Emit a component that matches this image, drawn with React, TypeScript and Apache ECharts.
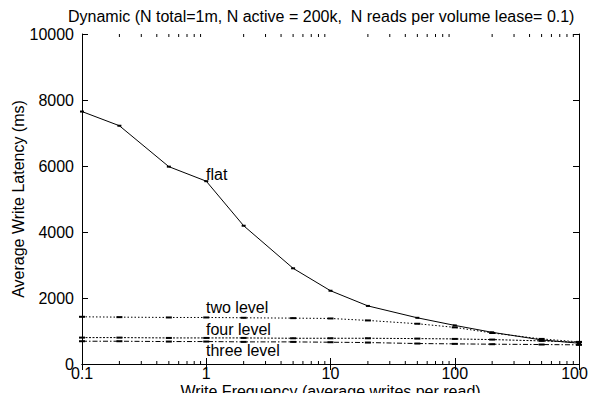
import React, { useEffect, useRef } from "react";
import * as echarts from "echarts";

// Write frequency (average writes per read), log scale
const freq = [0.1, 0.2, 0.5, 1, 2, 5, 10, 20, 50, 100, 200, 500, 1000];

// Average write latency (ms) per scheme
const flat = [7650, 7220, 5980, 5540, 4190, 2900, 2220, 1760, 1400, 1170, 960, 730, 630];
const twoLevel = [1430, 1420, 1410, 1410, 1400, 1390, 1380, 1320, 1220, 1110, 940, 760, 670];
const fourLevel = [800, 800, 790, 790, 790, 780, 780, 780, 770, 760, 740, 700, 660];
const threeLevel = [690, 690, 680, 680, 670, 670, 660, 650, 620, 610, 600, 590, 580];

// Minor tick positions on the log x axis
const minorTicks = [
  0.2, 0.3, 0.4, 0.5, 0.6, 0.7, 0.8, 0.9,
  2, 3, 4, 5, 6, 7, 8, 9,
  20, 30, 40, 50, 60, 70, 80, 90,
  200, 300, 400, 500, 600, 700, 800, 900,
];

const yTicks = { min: 0, max: 10000, interval: 2000 };

const FONT = "'Liberation Sans', Arial, Helvetica, sans-serif";
const FS = 16;

const pair = (ys: number[]) => freq.map((x, i) => [x, ys[i]]);

export default function App() {
  const ref = useRef<HTMLDivElement>(null);

  useEffect(() => {
    if (!ref.current) return;
    const chart = echarts.init(ref.current, null, { renderer: "svg" });

    const lineSeries = (name: string, ys: number[], type: any, marker: number[]) => ({
      name,
      type: "line",
      data: pair(ys),
      symbol: "rect",
      symbolSize: marker,
      itemStyle: { color: "#000" },
      lineStyle: { color: "#000", width: 1, type },
      silent: true,
      z: 3,
    });

    const axisCommon = {
      axisLine: { show: true, lineStyle: { color: "#000", width: 1 } },
      splitLine: { show: false },
    };

    const labelText = (text: string, top: number) => ({
      type: "text",
      left: 206,
      top,
      style: { text, font: `${FS}px ${FONT}`, fill: "#000" },
    });

    chart.setOption({
      animation: false,
      backgroundColor: "#fff",
      textStyle: { fontFamily: FONT },
      grid: {
        left: 82,
        right: 17,
        top: 34,
        bottom: 37,
        containLabel: false,
        outerBoundsMode: "none",
      },
      title: {
        text: "Dynamic (N total=1m, N active = 200k,  N reads per volume lease= 0.1)",
        left: 63,
        top: 3,
        textStyle: { fontFamily: FONT, fontSize: FS, fontWeight: "normal", color: "#000" },
      },
      xAxis: [
        {
          type: "log",
          logBase: 10,
          min: 0.1,
          max: 1000,
          position: "bottom",
          ...axisCommon,
          axisTick: { show: true, inside: true, length: 6, lineStyle: { color: "#000" } },
          axisLabel: {
            color: "#000",
            fontSize: FS,
            fontFamily: FONT,
            margin: 1,
            hideOverlap: false,
            showMinLabel: true,
            showMaxLabel: true,
            formatter: (v: number) => String(v),
          },
          name: "Write Frequency (average writes per read)",
          nameLocation: "middle",
          nameGap: 19,
          nameMoveOverlap: false,
          nameTextStyle: { color: "#000", fontSize: FS, fontFamily: FONT },
        },
        {
          type: "log",
          logBase: 10,
          min: 0.1,
          max: 1000,
          position: "top",
          ...axisCommon,
          axisTick: { show: true, inside: true, length: 6, lineStyle: { color: "#000" } },
          axisLabel: { show: false },
        },
      ],
      yAxis: [
        {
          type: "value",
          ...yTicks,
          position: "left",
          ...axisCommon,
          axisTick: { show: true, inside: true, length: 6, lineStyle: { color: "#000" } },
          axisLabel: {
            color: "#000",
            fontSize: FS,
            fontFamily: FONT,
            margin: 8,
            hideOverlap: false,
            formatter: (v: number) => String(v),
          },
          name: "Average Write Latency (ms)",
          nameLocation: "middle",
          nameGap: 56,
          nameRotate: 90,
          nameMoveOverlap: false,
          nameTextStyle: { color: "#000", fontSize: FS, fontFamily: FONT },
        },
        {
          type: "value",
          ...yTicks,
          position: "right",
          ...axisCommon,
          axisTick: { show: true, inside: true, length: 6, lineStyle: { color: "#000" } },
          axisLabel: { show: false },
        },
      ],
      series: [
        lineSeries("flat", flat, "solid", [4, 2]),
        lineSeries("two level", twoLevel, [1.5, 2], [6, 2]),
        lineSeries("four level", fourLevel, [2, 1.5], [6, 2]),
        lineSeries("three level", threeLevel, [5, 2, 1.5, 2], [6, 2]),
        {
          type: "custom",
          coordinateSystem: "cartesian2d",
          silent: true,
          clip: false,
          data: minorTicks.map((v) => [v, yTicks.min]),
          renderItem: (params: any, api: any) => {
            const v = api.value(0);
            const b = api.coord([v, yTicks.min]);
            const t = api.coord([v, yTicks.max]);
            const style = { stroke: "#000", lineWidth: 1 };
            return {
              type: "group",
              children: [
                { type: "line", shape: { x1: b[0], y1: b[1], x2: b[0], y2: b[1] - 3 }, style },
                { type: "line", shape: { x1: t[0], y1: t[1], x2: t[0], y2: t[1] + 3 }, style },
              ],
            };
          },
        },
      ],
      graphic: [
        labelText("flat", 166),
        labelText("two level", 299),
        labelText("four level", 321),
        labelText("three level", 342),
      ],
    });

    return () => chart.dispose();
  }, []);

  return <div ref={ref} style={{ width: 596, height: 401, margin: -8 }} />;
}
